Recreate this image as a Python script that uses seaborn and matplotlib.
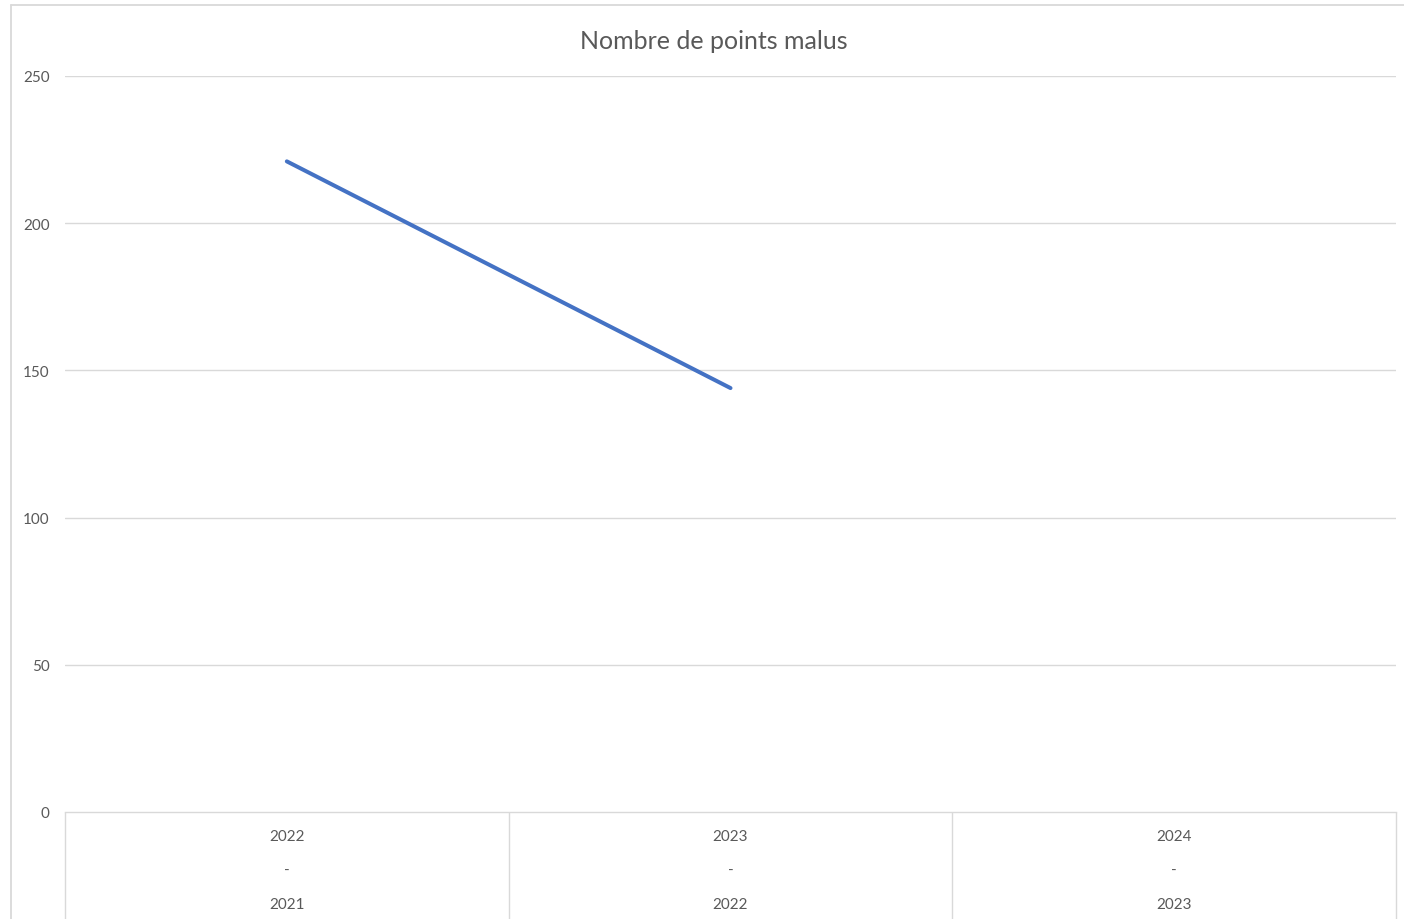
import numpy as np
import pandas as pd
import matplotlib
matplotlib.use("Agg")
import matplotlib.pyplot as plt
from matplotlib.lines import Line2D
import seaborn as sns

# data
periodes = ["2022\n-\n2021", "2023\n-\n2022", "2024\n-\n2023"]
points_malus = [221, 144, np.nan]
titre = "Nombre de points malus"
y_ticks = [0, 50, 100, 150, 200, 250]

GRID = "#d9d9d9"
TEXT = "#595959"
BLUE = "#4472C4"

sns.set_theme(style="white")
plt.rcParams["font.family"] = ["Lato", "DejaVu Sans"]

df = pd.DataFrame({"periode": periodes, "malus": points_malus})
df["pos"] = range(len(df))

W, H = 1404, 920
fig = plt.figure(figsize=(W / 100, H / 100), dpi=100)
fig.patch.set_facecolor("white")
ax = fig.add_axes([65 / W, 1 - 813 / H, (1396 - 65) / W, (813 - 77) / H])

sns.lineplot(data=df, x="pos", y="malus", ax=ax, color=BLUE, linewidth=2.9,
             solid_capstyle="round")

ax.set_xlim(-0.5, len(periodes) - 0.5)
ax.set_ylim(0, 250)
ax.set_yticks(y_ticks)
ax.set_yticklabels([str(v) for v in y_ticks], color=TEXT, fontsize=11)
ax.set_xticks(df["pos"])
ax.set_xticklabels(periodes, color=TEXT, fontsize=11, linespacing=2.85)
ax.tick_params(axis="y", length=0, pad=11)
ax.tick_params(axis="x", length=0, pad=12)
ax.set_xlabel("")
ax.set_ylabel("")

for y in y_ticks[1:]:
    ax.axhline(y, color=GRID, lw=1.0, zorder=0)

for s in ["top", "right", "left"]:
    ax.spines[s].set_visible(False)
ax.spines["bottom"].set_color(GRID)
ax.spines["bottom"].set_linewidth(1.0)

# category dividers below the axis
bounds = np.arange(len(periodes) + 1) - 0.5
ax.vlines(bounds, -0.2, 0, transform=ax.get_xaxis_transform(), colors=GRID,
          lw=1.0, clip_on=False)

# title is centred on the chart frame, a bit left of the plot centre
ax.set_title(titre, color=TEXT, fontsize=18, pad=20, x=(714 - 65) / (1396 - 65))

# outer chart frame: only top and left edges are visible in the crop
fx, fy = 11 / W, 1 - 6 / H
fig.lines.append(Line2D([fx, 1.0], [fy, fy], transform=fig.transFigure,
                        color=GRID, lw=1.3))
fig.lines.append(Line2D([fx, fx], [0.0, fy], transform=fig.transFigure,
                        color=GRID, lw=1.3))

fig.savefig("out.png", dpi=100)
